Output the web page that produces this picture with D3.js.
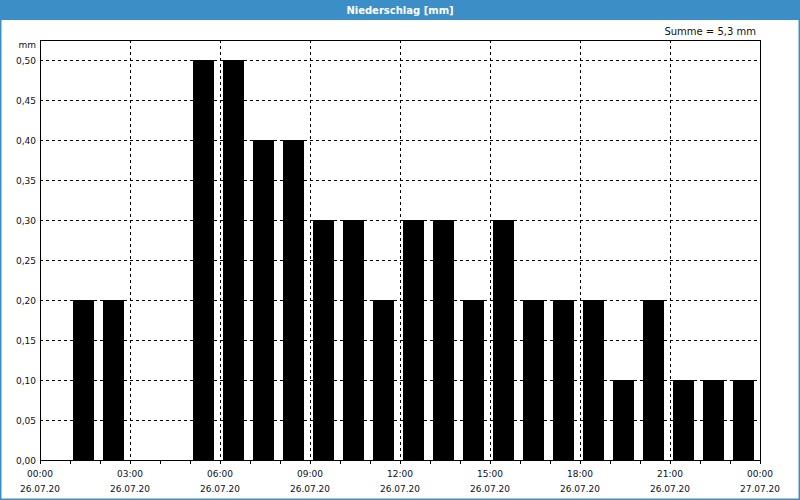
<!DOCTYPE html>
<html>
<head>
<meta charset="utf-8">
<script src="https://cdn.jsdelivr.net/npm/d3@7"></script>
<style>
  body { margin: 0; background: #fff; }
  svg text { font-family: "DejaVu Sans", sans-serif; }
</style>
</head>
<body>
<div id="container"></div>
<script>
const width = 800;
const height = 500;

// hourly precipitation, 26.07.20 00:00 .. 27.07.20 00:00
const hours = d3.range(0, 24);
const rain = [0, 0.2, 0.2, 0, 0, 0.5, 0.5, 0.4, 0.4, 0.3, 0.3, 0.2,
              0.3, 0.3, 0.2, 0.3, 0.2, 0.2, 0.2, 0.1, 0.2, 0.1, 0.1, 0.1];
const yTicks = d3.range(0, 0.5001, 0.05);
const xLabelHours = [0, 3, 6, 9, 12, 15, 18, 21, 24];
const xTimeLabels = ["00:00", "03:00", "06:00", "09:00", "12:00", "15:00", "18:00", "21:00", "00:00"];
const xDateLabels = ["26.07.20", "26.07.20", "26.07.20", "26.07.20", "26.07.20", "26.07.20", "26.07.20", "26.07.20", "27.07.20"];
const title = "Niederschlag [mm]";
const sumText = "Summe = 5,3 mm";

const plot = {left: 40, right: 760, top: 40, bottom: 460};

const svg = d3.select("div#container").append("svg")
    .attr("width", width)
    .attr("height", height);

// frame + title bar
svg.append("rect")
    .attr("x", 0.5).attr("y", 0.5)
    .attr("width", width - 1).attr("height", height - 1)
    .attr("fill", "#fff")
    .attr("stroke", "#3c8fc6")
    .attr("stroke-width", 2);

svg.append("rect")
    .attr("x", 0).attr("y", 0)
    .attr("width", width).attr("height", 20)
    .attr("fill", "#3c8fc6");

svg.append("text")
    .attr("x", width / 2).attr("y", 14)
    .attr("text-anchor", "middle")
    .attr("fill", "#fff")
    .attr("font-size", 10)
    .attr("font-weight", "bold")
    .text(title);

svg.append("text")
    .attr("x", 756).attr("y", 35)
    .attr("text-anchor", "end")
    .attr("font-size", 10)
    .attr("fill", "#111")
    .text(sumText);

const xScale = d3.scaleLinear().domain([0, 24]).range([plot.left, plot.right]);
const yScale = d3.scaleLinear().domain([0, 0.5]).range([plot.bottom, 60]);

// grid
svg.append("g").selectAll("line").data(yTicks.slice(1)).enter()
    .append("line")
    .attr("x1", plot.left).attr("x2", plot.right)
    .attr("y1", d => Math.round(yScale(d)) + 0.5)
    .attr("y2", d => Math.round(yScale(d)) + 0.5)
    .attr("stroke", "#000")
    .attr("stroke-dasharray", "3,3");

svg.append("g").selectAll("line").data(xLabelHours.slice(1, -1)).enter()
    .append("line")
    .attr("x1", d => xScale(d) + 0.5).attr("x2", d => xScale(d) + 0.5)
    .attr("y1", plot.top).attr("y2", plot.bottom)
    .attr("stroke", "#000")
    .attr("stroke-dasharray", "3,3");

// bars
svg.append("g").selectAll("rect").data(hours).enter()
    .append("rect")
    .attr("x", d => xScale(d) + 3)
    .attr("width", 21)
    .attr("y", d => yScale(rain[d]))
    .attr("height", d => yScale(0) - yScale(rain[d]))
    .attr("fill", "#000");

// plot border
svg.append("rect")
    .attr("x", plot.left + 0.5).attr("y", plot.top + 0.5)
    .attr("width", plot.right - plot.left).attr("height", plot.bottom - plot.top)
    .attr("fill", "none")
    .attr("stroke", "#000");

// y axis labels
svg.append("g").selectAll("text").data(yTicks).enter()
    .append("text")
    .attr("x", 36)
    .attr("y", d => yScale(d) + 4)
    .attr("text-anchor", "end")
    .attr("font-size", 9)
    .attr("fill", "#111")
    .text(d => d3.format(".2f")(d).replace(".", ","));

svg.append("text")
    .attr("x", 36).attr("y", 48)
    .attr("text-anchor", "end")
    .attr("font-size", 9)
    .attr("fill", "#111")
    .text("mm");

// x axis hour ticks
svg.append("g").selectAll("line").data(d3.range(0, 25)).enter()
    .append("line")
    .attr("x1", d => xScale(d) + 0.5).attr("x2", d => xScale(d) + 0.5)
    .attr("y1", plot.bottom).attr("y2", plot.bottom + 4)
    .attr("stroke", "#000");

const xl = svg.append("g").selectAll("g").data(xLabelHours).enter()
    .append("g")
    .attr("transform", d => "translate(" + xScale(d) + ",0)");

xl.append("text")
    .attr("y", 477)
    .attr("text-anchor", "middle")
    .attr("font-size", 9)
    .attr("fill", "#111")
    .text((d, i) => xTimeLabels[i]);

xl.append("text")
    .attr("y", 492)
    .attr("text-anchor", "middle")
    .attr("font-size", 9)
    .attr("fill", "#111")
    .text((d, i) => xDateLabels[i]);
</script>
</body>
</html>
